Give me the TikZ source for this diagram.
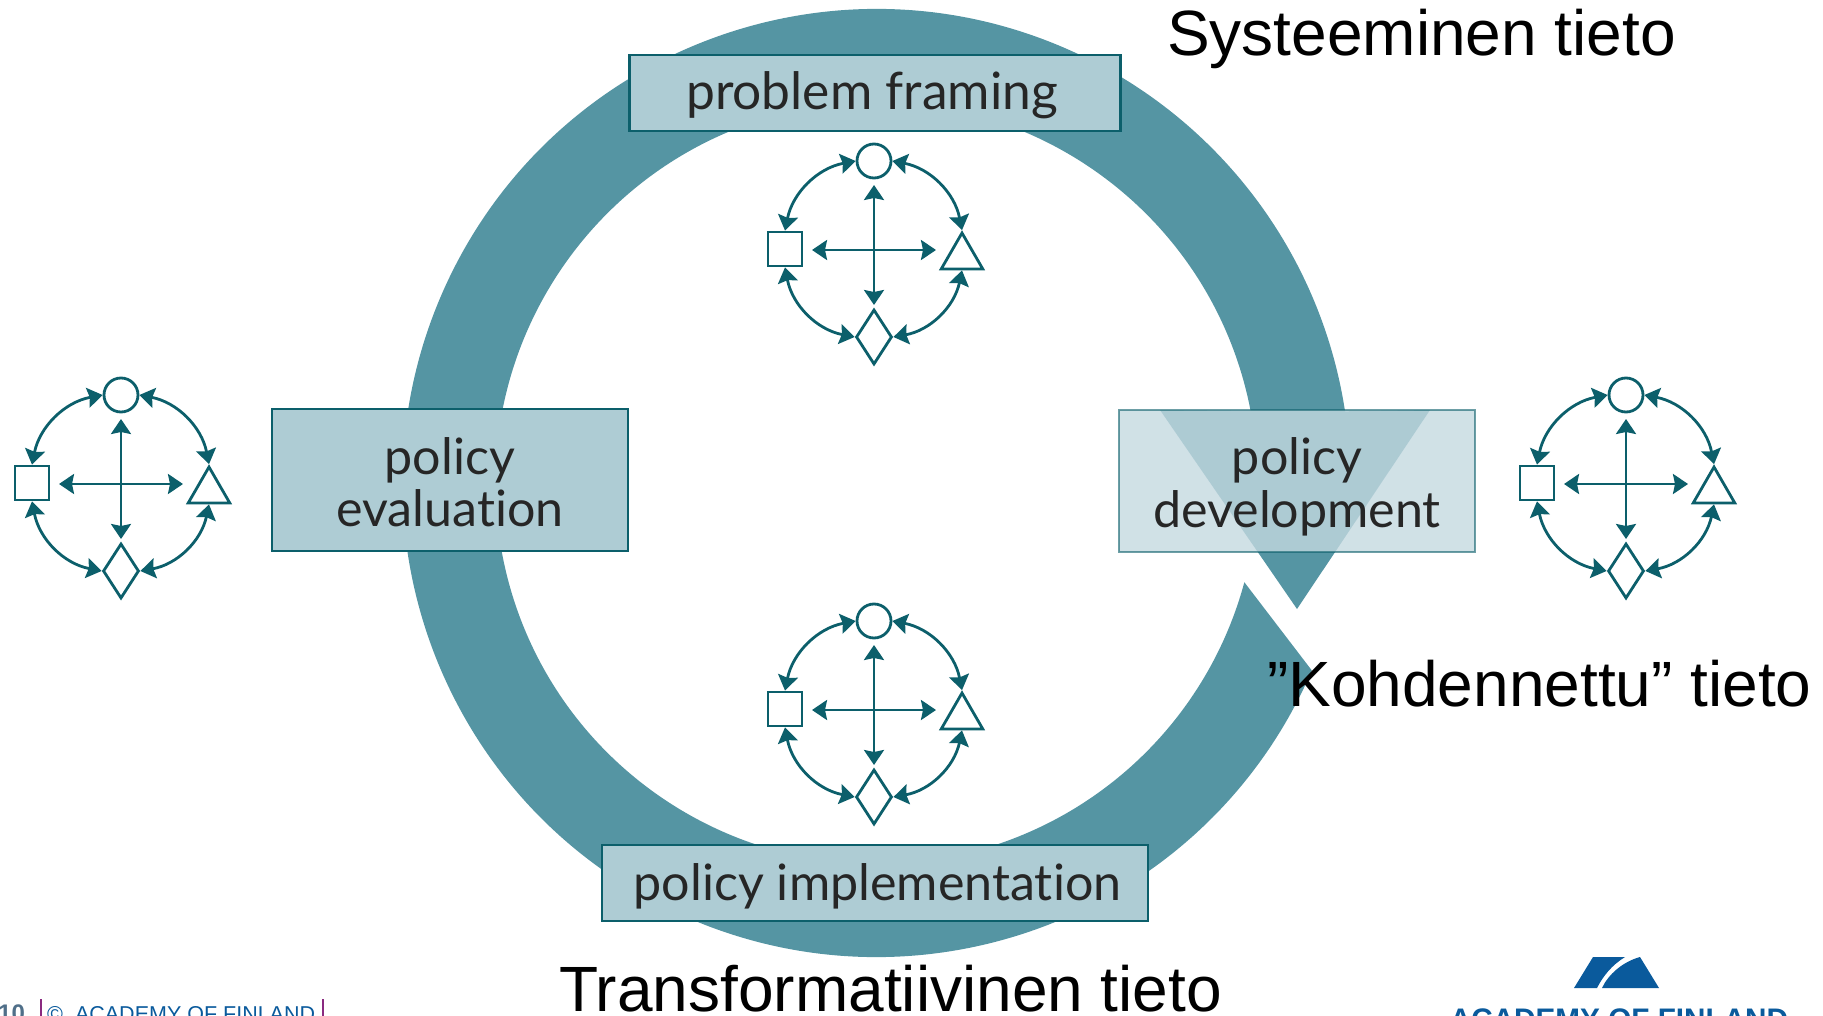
\documentclass[tikz,border=0pt]{standalone}
\usepackage{fontspec}
\setmainfont{Liberation Sans}
\newfontfamily\boxfont[Ligatures=NoCommon]{Lato}
\usetikzlibrary{arrows.meta}
\usetikzlibrary{shapes.geometric}
\definecolor{ringteal}{HTML}{5595A3}
\definecolor{boxteal}{HTML}{AECCD4}
\definecolor{paleteal}{HTML}{C4D9E0}
\definecolor{darkteal}{HTML}{0C5F6B}
\definecolor{finblue}{HTML}{0A5A9C}
\definecolor{barpurple}{HTML}{8A2A80}
\tikzset{
  stage/.style={draw=darkteal,line width=2.6pt,fill=boxteal,text=black!85,align=center,
    font=\boxfont\fontsize{50.2}{50}\selectfont,inner sep=0pt},
  actor/.style={draw=darkteal,line width=2.8pt,inner sep=0pt},
  link/.style={darkteal,line width=2.8pt,{Stealth[length=15pt,width=20pt,inset=2pt]}-{Stealth[length=15pt,width=20pt,inset=2pt]}},
  title/.style={font=\fontsize{64}{70}\selectfont,anchor=base west,inner sep=0pt}
}
\newcommand{\lowered}[2]{\raisebox{-#1pt}[\height][\depth]{#2}}
\newcommand{\actorcross}[3]{
  \begin{scope}[shift={(#2,#3)}]
    \node[actor,circle,minimum size=34pt] (#1c) at (0,-89) {};
    \node[actor,rectangle,minimum size=34pt] (#1s) at (-89,-1) {};
    \node[actor,regular polygon,regular polygon sides=3,minimum size=48pt] (#1t) at (88,7) {};
    \node[actor,diamond,minimum width=36pt,minimum height=55pt] (#1d) at (0,87) {};
    \coordinate (#1n) at (0,-65);
    \coordinate (#1b) at (0,55);
    \coordinate (#1w) at (-62,0);
    \coordinate (#1e) at (62,0);
    \draw[link] (#1n) -- (#1b);
    \draw[link] (#1w) -- (#1e);
    \draw[link] (#1c.west) to[bend left=34] (#1s.north);
    \draw[link] (#1c.east) to[bend right=34] (#1t.north);
    \draw[link] (#1d.west) to[bend right=34] (#1s.south);
    \draw[link] (#1d.east) to[bend left=34] (#1t.south);
  \end{scope}
}
\begin{document}
\begin{tikzpicture}[x=1pt,y=1pt,yscale=-1]
  \useasboundingbox (0,0) rectangle (1823,1016);
  \fill[ringteal,shift={(876.5,483)}] (23.3:474) arc (23.3:351.3:474) -- (553.5,-73) -- (420.5,126) -- (283.5,-73)
    -- (349.1:381) arc (349.1:15.1:381) -- cycle;
  \node[stage,minimum width=491pt,minimum height=76pt] (framing) at (875,93) {\hspace*{-6pt}\lowered{2.5}{\fontsize{51.5}{50}\selectfont problem framing}};
  \node[stage,minimum width=356pt,minimum height=142pt] (evaluation) at (450,480) {\lowered{1}{policy}\\\lowered{3.5}{evaluation}};
  \node[stage,minimum width=546pt,minimum height=76pt] (implementation) at (875,883) {\hspace*{5pt}\lowered{3.5}{policy implementation}};
  \node[stage,draw opacity=.6,fill=paleteal,fill opacity=.8,text opacity=1,minimum width=356pt,minimum height=142pt] (development) at (1297,481) {\lowered{4.5}{policy}\\\lowered{7}{development}};
  \actorcross{top}{874}{250}
  \actorcross{low}{874}{710}
  \actorcross{west}{121}{484}
  \actorcross{east}{1626}{484}
  \node[title] (systemic) at (1167,56) {Systeeminen tieto};
  \node[title] (targeted) at (1267,706) {”Kohdennettu” tieto};
  \node[title] (transform) at (559,1011) {Transformatiivinen tieto};
  \node[anchor=base west,inner sep=0pt,text=black!45!finblue!70,font=\bfseries\fontsize{24}{24}\selectfont] (page) at (-2,1021) {10};
  \node[anchor=base west,inner sep=0pt,text=finblue,font=\fontsize{21.5}{22}\selectfont] (copyright) at (47,1021) {©\hspace{12pt}ACADEMY OF FINLAND};
  \fill[barpurple] (40,999) rectangle (42,1016);
  \fill[barpurple] (322,999) rectangle (324,1016);
  \fill[finblue] (1593,957) -- (1625,957) .. controls (1612,965) and (1603,976) .. (1597,988) -- (1574,988) -- cycle;
  \fill[finblue] (1640,957) -- (1659,988) -- (1602,988) .. controls (1608,975) and (1622,962) .. (1640,957) -- cycle;
  \node[anchor=base,inner sep=0pt,text=finblue,font=\bfseries\fontsize{29.7}{30}\selectfont] (academy) at (1619,1029) {ACADEMY OF FINLAND};
\end{tikzpicture}
\end{document}
